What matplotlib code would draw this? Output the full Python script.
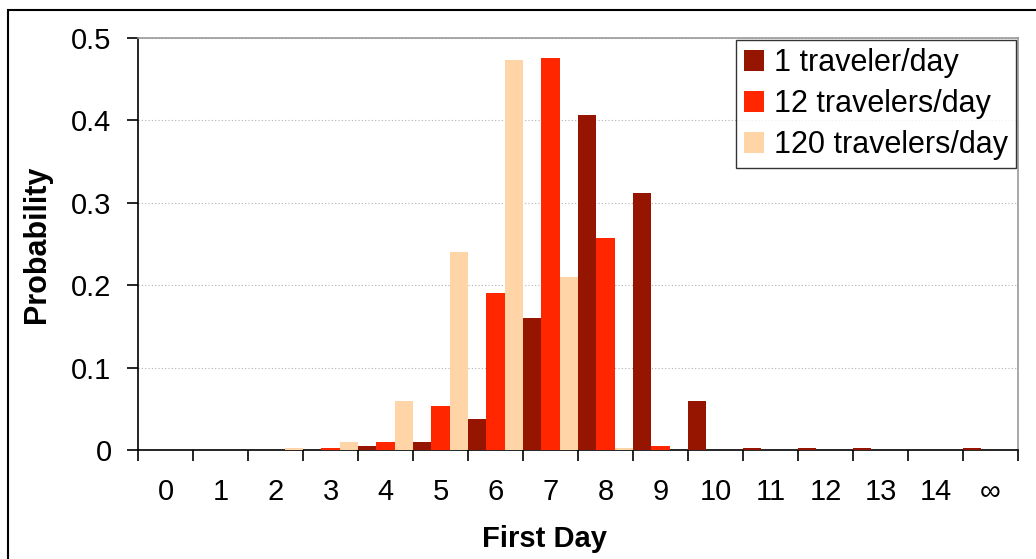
import numpy as np
import matplotlib
matplotlib.use("Agg")
import matplotlib.pyplot as plt
from matplotlib.patches import Rectangle

plt.rcParams['font.family'] = ['Liberation Sans', 'DejaVu Sans']

days = ['0', '1', '2', '3', '4', '5', '6', '7', '8', '9',
        '10', '11', '12', '13', '14', '\u221e']
one_traveler = [0, 0, 0, 0, 0.005, 0.010, 0.038, 0.160, 0.407, 0.312,
                0.059, 0.002, 0.002, 0.002, 0, 0.002]
twelve_travelers = [0, 0, 0, 0.003, 0.010, 0.054, 0.190, 0.476, 0.257, 0.005,
                    0, 0, 0, 0, 0, 0]
hundred_twenty = [0, 0, 0.003, 0.010, 0.059, 0.240, 0.473, 0.210, 0.002, 0,
                  0, 0, 0, 0, 0, 0]
series_names = ['1 traveler/day', '12 travelers/day', '120 travelers/day']
colors = ['#961500', '#ff2600', '#ffd5a8']

fig = plt.figure(figsize=(10.36, 5.59), dpi=100)
ax = fig.add_axes([138/1036, 1 - 450/559, (1018-138)/1036, (450-38)/559])

# outer frame (runs off the right and bottom edges)
fig.patches.append(Rectangle((8/1036, -0.1), 1.2, 1 - 10/559 + 0.1,
                             transform=fig.transFigure, fill=False,
                             edgecolor='black', linewidth=1.5, zorder=0))

x = np.arange(len(days))
w = 1/3
for k, (vals, name, c) in enumerate(zip([one_traveler, twelve_travelers, hundred_twenty],
                                         series_names, colors)):
    ax.bar(x + (k-1)*w, vals, width=w, color=c, label=name, zorder=3)

ax.set_xlim(-0.5, len(days) - 0.5)
ax.set_ylim(0, 0.5)
ax.set_yticks([0, 0.1, 0.2, 0.3, 0.4, 0.5])
ax.set_yticklabels(['0', '0.1', '0.2', '0.3', '0.4', '0.5'])
ax.yaxis.grid(True, linestyle=(0, (1, 2)), color='#b0b0b0', linewidth=0.8)

ax.set_xticks(np.arange(len(days) + 1) - 0.5)
ax.set_xticklabels([])
ax.set_xticks(x, minor=True)
ax.set_xticklabels(days, minor=True)
ax.tick_params(axis='x', which='major', direction='out', length=8, width=1.2)
ax.tick_params(axis='x', which='minor', length=0, pad=20, labelsize=21)
ax.tick_params(axis='y', direction='out', length=8, width=1.2, labelsize=21, pad=11)

for s in ['left', 'bottom']:
    ax.spines[s].set_linewidth(1.2)
for s in ['top', 'right']:
    ax.spines[s].set_color('#999999')
    ax.spines[s].set_linewidth(1.2)

ax.set_xlabel('First Day', fontsize=21, fontweight='bold')
ax.xaxis.set_label_coords(0.4625, -0.182)
ax.set_ylabel('Probability', fontsize=22, fontweight='bold', labelpad=14)

leg = ax.legend(loc='upper right', fontsize=22, frameon=True, fancybox=False,
                edgecolor='black', borderaxespad=0.08, handlelength=0.65,
                handleheight=0.65, handletextpad=0.33, labelspacing=0.36,
                borderpad=0.25)
leg.get_frame().set_linewidth(1.0)

fig.savefig('out.png', dpi=100)
